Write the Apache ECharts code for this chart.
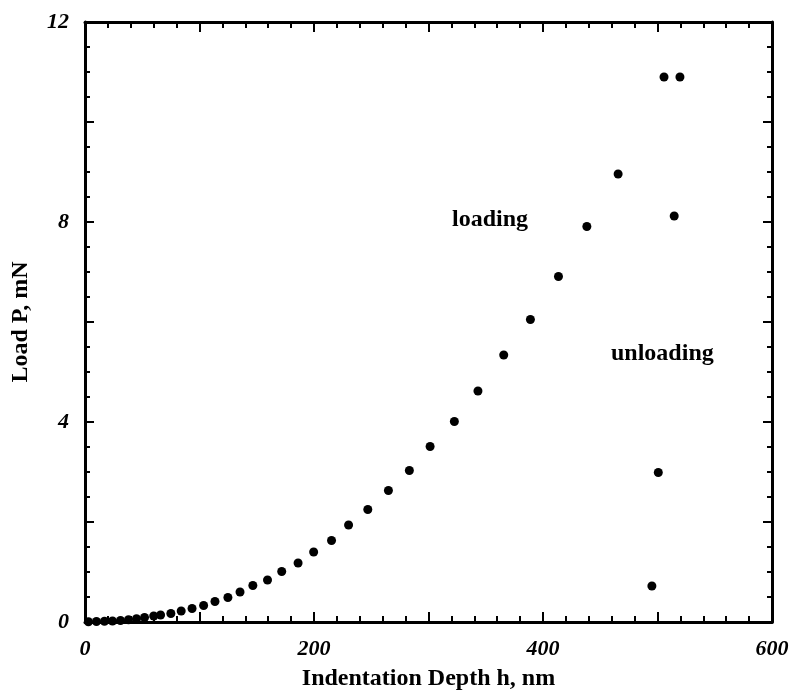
<!DOCTYPE html>
<html>
<head>
<meta charset="utf-8">
<script src="https://cdn.jsdelivr.net/npm/echarts@6/dist/echarts.min.js"></script>
<style>
html,body{margin:0;padding:0;background:#fff;}
#chart{width:796px;height:698px;}
</style>
</head>
<body>
<div id="chart"></div>
<script>
// Loading branch (depth nm, load mN)
const loadDepth = [3, 10, 17, 24, 31, 38, 45, 52, 60, 66, 75, 84, 93.5, 103.6, 113.5, 124.8, 135.4, 146.6, 159.4, 171.8, 186.1, 199.7, 215.3, 230.2, 247, 265, 283.3, 301.4, 322.6, 343.2, 365.7, 389, 413.5, 438.3, 465.6, 505.7];
const loadForce = [0.005, 0.01, 0.015, 0.02, 0.03, 0.045, 0.065, 0.09, 0.12, 0.14, 0.17, 0.22, 0.27, 0.33, 0.41, 0.49, 0.6, 0.73, 0.84, 1.01, 1.18, 1.4, 1.63, 1.94, 2.25, 2.63, 3.03, 3.51, 4.01, 4.62, 5.34, 6.05, 6.91, 7.91, 8.96, 10.9];
// Unloading branch
const unloadDepth = [519.6, 514.6, 500.7, 495.1];
const unloadForce = [10.9, 8.12, 2.99, 0.72];
// Axis tick labels
const xTickLabels = [0, 200, 400, 600];
const yTickLabels = [0, 4, 8, 12];

const zip = (a, b) => a.map((v, i) => [v, b[i]]);
const FONT = 'Liberation Serif';
const tickLabel = {
  color: '#000', fontFamily: FONT, fontWeight: 'bold', fontStyle: 'italic', fontSize: 22
};
const axisLine = { show: true, onZero: false, lineStyle: { color: '#000', width: 3 } };

function xAxis(pos, showLabel) {
  return {
    type: 'value', position: pos, min: 0, max: 600, interval: 100,
    name: showLabel ? 'Indentation Depth h, nm' : '',
    nameLocation: 'middle', nameGap: 45,
    nameTextStyle: { color: '#000', fontFamily: FONT, fontWeight: 'bold', fontSize: 24 },
    axisLine: axisLine,
    axisTick: { show: true, inside: true, length: 10, lineStyle: { color: '#000', width: 2 } },
    minorTick: { show: true, splitNumber: 5, length: 6, lineStyle: { color: '#000', width: 2 } },
    splitLine: { show: false },
    axisLabel: {
      show: showLabel, margin: 16, ...tickLabel,
      formatter: v => xTickLabels.includes(v) ? String(v) : ''
    }
  };
}
function yAxis(pos, showLabel) {
  return {
    type: 'value', position: pos, min: 0, max: 12, interval: 2,
    name: showLabel ? 'Load P, mN' : '',
    nameLocation: 'middle', nameGap: 52,
    nameTextStyle: { color: '#000', fontFamily: FONT, fontWeight: 'bold', fontSize: 24 },
    axisLine: axisLine,
    axisTick: { show: true, inside: true, length: 9, lineStyle: { color: '#000', width: 2 } },
    minorTick: { show: true, splitNumber: 4, length: 5, lineStyle: { color: '#000', width: 2 } },
    splitLine: { show: false },
    axisLabel: {
      show: showLabel, margin: 16, ...tickLabel,
      formatter: v => yTickLabels.includes(v) ? String(v) : ''
    }
  };
}

const chart = echarts.init(document.getElementById('chart'));
chart.setOption({
  backgroundColor: '#fff',
  animation: false,
  grid: { left: 85, right: 24, top: 22, bottom: 76 },
  xAxis: [xAxis('bottom', true), xAxis('top', false)],
  yAxis: [yAxis('left', true), yAxis('right', false)],
  series: [
    { name: 'loading', type: 'scatter', symbol: 'circle', symbolSize: 9,
      itemStyle: { color: '#000', opacity: 1 }, data: zip(loadDepth, loadForce) },
    { name: 'unloading', type: 'scatter', symbol: 'circle', symbolSize: 9,
      itemStyle: { color: '#000', opacity: 1 }, data: zip(unloadDepth, unloadForce) }
  ],
  graphic: [
    { type: 'text', left: 452, top: 208,
      style: { text: 'loading', fill: '#000', font: 'bold 24px "Liberation Serif"' } },
    { type: 'text', left: 611, top: 342,
      style: { text: 'unloading', fill: '#000', font: 'bold 24px "Liberation Serif"' } }
  ]
});
</script>
</body>
</html>
